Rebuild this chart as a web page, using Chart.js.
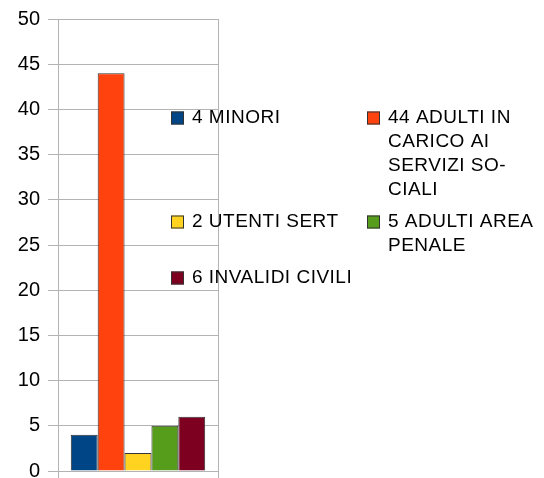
<!DOCTYPE html>
<html>
<head>
<meta charset="utf-8">
<script src="https://cdn.jsdelivr.net/npm/chart.js@4"></script>
<style>
  html, body { margin: 0; padding: 0; background: #fff; }
  #wrap { width: 544px; height: 478px; position: relative; }
</style>
</head>
<body>
<div id="wrap"><canvas id="chart"></canvas></div>
<script>
// Data
const seriesNames = ['4 MINORI', '44 ADULTI IN CARICO AI SERVIZI SOCIALI', '2 UTENTI SERT', '5 ADULTI AREA PENALE', '6 INVALIDI CIVILI'];
const seriesValues = [4, 44, 2, 5, 6];
const seriesColors = ['#004586', '#ff420e', '#ffd320', '#579d1c', '#7e0021'];
// legend text as it wraps in the picture
const legendLines = [
  ['4 MINORI'],
  ['44 ADULTI IN', 'CARICO AI', 'SERVIZI SO-', 'CIALI'],
  ['2 UTENTI SERT'],
  ['5 ADULTI AREA', 'PENALE'],
  ['6 INVALIDI CIVILI']
];
const yTicks = [0, 5, 10, 15, 20, 25, 30, 35, 40, 45, 50];

const FONT = '"Liberation Sans", Arial, sans-serif';

// legend drawn over the plot, two columns
const overlayLegend = {
  id: 'overlayLegend',
  afterDraw(chart) {
    const ctx = chart.ctx;
    const colX = [171, 367];
    const lineH = 24;
    let rowY = 118;
    ctx.save();
    ctx.font = '19px ' + FONT;
    ctx.letterSpacing = '0.5px';
    ctx.textBaseline = 'middle';
    ctx.textAlign = 'left';
    for (let i = 0; i < legendLines.length; i += 2) {
      let maxLines = 1;
      for (let j = 0; j < 2 && i + j < legendLines.length; j++) {
        const k = i + j;
        const x = colX[j];
        ctx.fillStyle = seriesColors[k];
        ctx.fillRect(x, rowY - 6.5, 13, 13);
        ctx.strokeStyle = '#333';
        ctx.lineWidth = 1;
        ctx.strokeRect(x + 0.5, rowY - 6, 12, 12);
        ctx.fillStyle = '#000';
        legendLines[k].forEach((t, n) => ctx.fillText(t, x + 21, rowY + n * lineH));
        maxLines = Math.max(maxLines, legendLines[k].length);
      }
      rowY += (maxLines - 1) * lineH + 32;
    }
    ctx.restore();
  }
};

new Chart(document.getElementById('chart'), {
  type: 'bar',
  data: {
    labels: [''],
    datasets: seriesNames.map((name, i) => ({
      label: name,
      data: [seriesValues[i]],
      backgroundColor: seriesColors[i],
      borderColor: '#333333',
      borderWidth: 1,
      barPercentage: 1,
      categoryPercentage: 0.84
    }))
  },
  options: {
    responsive: true,
    maintainAspectRatio: false,
    animation: false,
    layout: { padding: { top: 19, right: 326, bottom: 0, left: 0 } },
    plugins: {
      legend: { display: false },
      tooltip: { enabled: false }
    },
    scales: {
      x: {
        grid: { color: '#b3b3b3', tickLength: 7, offset: true },
        border: { color: '#b3b3b3' },
        ticks: { display: false },
        afterFit: (scale) => { scale.height = 7; }
      },
      y: {
        min: 0,
        max: 50,
        afterBuildTicks: (scale) => { scale.ticks = yTicks.map(v => ({ value: v })); },
        afterFit: (scale) => {
          scale.width = 58;
          scale.paddingTop = 0;
          scale.paddingBottom = 0;
        },
        grid: { color: '#b3b3b3', tickLength: 10 },
        border: { color: '#b3b3b3' },
        ticks: {
          color: '#000',
          font: { family: FONT, size: 20 },
          padding: 8
        }
      }
    }
  },
  plugins: [overlayLegend]
});
</script>
</body>
</html>
